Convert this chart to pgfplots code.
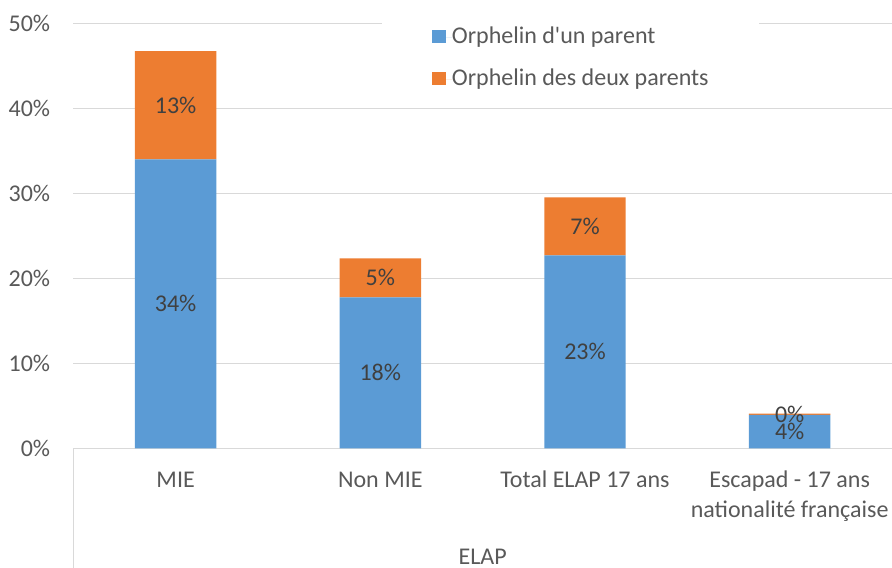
\documentclass[border=0pt]{standalone}
\usepackage{pgfplots}
\pgfplotsset{compat=1.18}
\usepackage{pgfplotstable}
\usepackage{fontspec}
\setmainfont{Carlito}
\definecolor{barblue}{HTML}{5B9BD5}
\definecolor{barorange}{HTML}{ED7D31}
\definecolor{gridgray}{HTML}{D9D9D9}
\definecolor{ticktext}{HTML}{595959}
\definecolor{labeltext}{HTML}{404040}

\pgfplotstableread{
x b o
0 34.00 12.74
1 17.76 4.59
2 22.70 6.83
3 3.92 0.15
}\datatable

\pgfplotsset{common/.style={at={(73.3bp,119.7bp)}, anchor=south west, scale only axis,
  width=818.7bp, height=425bp, xmin=-0.5, xmax=3.5, ymin=0, ymax=50, clip=false,
  /pgf/number format/assume math mode=true}}

\begin{document}
\begin{tikzpicture}[font=\fontsize{24bp}{30bp}\selectfont]
\useasboundingbox (0,0) rectangle (892bp,568bp);
\begin{axis}[common, ybar stacked, bar width=81.4bp,
  axis line style={draw=none}, major tick length=0pt,
  ytick={0,10,...,50}, ymajorgrids, grid style={gridgray, line width=1.2bp},
  yticklabel={\pgfmathprintnumber{\tick}\%},
  yticklabel style={text=ticktext, anchor=east, inner sep=0pt, xshift=-23bp},
  xtick={0,1,2,3},
  xticklabels={\strut MIE, \strut Non MIE, \strut Total ELAP 17 ans, {\strut Escapad - 17 ans\\nationalité française}},
  xticklabel style={text=ticktext, align=center, anchor=north, inner sep=0pt, yshift=-18.4bp},
  legend cell align=left,
  legend style={at={(0.3771,1.0231)}, anchor=north west, draw=none, fill=white,
    inner xsep=50bp, inner ysep=12bp, row sep=18bp,
    nodes={inner sep=0pt, text=ticktext, text height=18bp, text depth=6bp}},
  legend image code/.code={\fill[#1] (0bp,-5.5bp) rectangle (13.7bp,7.5bp); \path (0bp,0bp) -- (19.7bp,0bp);},
  ]
\addplot[fill=barblue, draw=none] table[x=x,y=b]{\datatable};
\addplot[fill=barorange, draw=none] table[x=x,y=o]{\datatable};
\legend{Orphelin d\textquotesingle un parent, Orphelin des deux parents}
\draw[gridgray, line width=1.2bp] (rel axis cs:0,0) -- ++(0bp,-119.7bp);
\path (rel axis cs:0.5,0) ++(0bp,-116.1bp) node[anchor=base, text=ticktext, inner sep=0pt]{ELAP};
\end{axis}
\begin{axis}[common, hide axis]
\addplot[only marks, mark=*, mark size=0pt, mark options={draw=none,fill=none},
  point meta=explicit,
  nodes near coords={\pgfmathprintnumber[fixed,precision=0]{\pgfplotspointmeta}\%},
  every node near coord/.append style={anchor=center, text=labeltext, inner sep=0pt}]
  table[x=x, y expr=\thisrow{b}/2, meta=b]{\datatable};
\addplot[only marks, mark=*, mark size=0pt, mark options={draw=none,fill=none},
  point meta=explicit,
  nodes near coords={\pgfmathprintnumber[fixed,precision=0]{\pgfplotspointmeta}\%},
  every node near coord/.append style={anchor=center, text=labeltext, inner sep=0pt}]
  table[x=x, y expr=\thisrow{b}+\thisrow{o}/2, meta=o]{\datatable};
\end{axis}
\end{tikzpicture}
\end{document}
